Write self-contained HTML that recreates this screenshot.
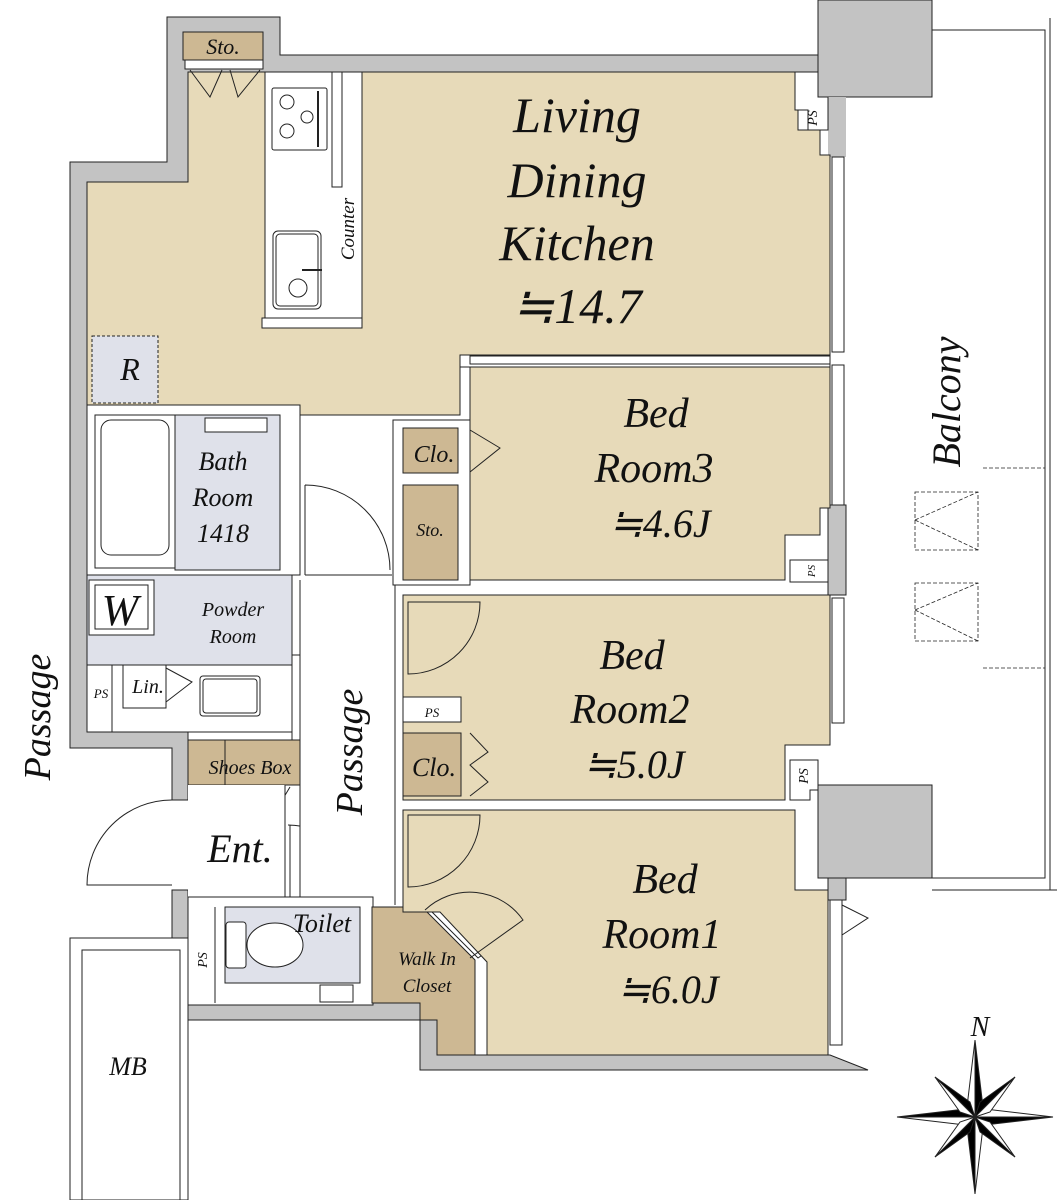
<!DOCTYPE html>
<html><head><meta charset="utf-8"><style>
html,body{margin:0;padding:0;background:#fff}
svg{display:block}
text{font-family:"Liberation Serif",serif;font-style:italic;fill:#111}
</style></head><body>
<svg width="1057" height="1200" viewBox="0 0 1057 1200" xmlns="http://www.w3.org/2000/svg">
<g stroke="#222" stroke-width="1">
<path d="M167,17 H280 V55 H818 V72 H188 V182 H87 V732 H188 V800 H172 V748 H70 V162 H167 Z" fill="#c3c3c3"/>
<path d="M172,890 H188 V1003 H437 V1055 H830 L868,1070 H420 V1020 H188 V1015 H172 Z" fill="#c3c3c3"/>
<rect x="818" y="0" width="114" height="97" fill="#c3c3c3"/>
<rect x="828" y="97" width="18" height="60" fill="#c3c3c3" stroke="none"/>
<rect x="828" y="505" width="18" height="90" fill="#c3c3c3"/>
<rect x="818" y="785" width="114" height="93" fill="#c3c3c3"/>
<rect x="828" y="878" width="18" height="22" fill="#c3c3c3"/>
<path d="M932,30 H1045 V878 H932" fill="none"/>
<line x1="1050" y1="18" x2="1050" y2="890"/>
<line x1="932" y1="890" x2="1057" y2="890"/>
<path d="M188,72 H818 V105 H798 V130 H820 V155 H830 V355 H460 V415 H300 V405 H87 V182 H188 Z" fill="#e7dab9"/>
<rect x="265" y="72" width="97" height="255" fill="#fff"/>
<rect x="262" y="318" width="100" height="10" fill="#fff"/>
<rect x="332" y="72" width="10" height="115" fill="#fff"/>
<rect x="272" y="88" width="55" height="62" fill="#fff" rx="2"/>
<circle cx="287" cy="102" r="7" fill="none"/><circle cx="287" cy="131" r="7" fill="none"/><circle cx="307" cy="117" r="6" fill="none"/>
<line x1="318" y1="91" x2="318" y2="147" stroke-width="2"/>
<rect x="273" y="231" width="48" height="78" rx="5" fill="#fff"/>
<rect x="276" y="234" width="42" height="72" rx="4" fill="none"/>
<circle cx="298" cy="288" r="9" fill="none"/>
<line x1="302" y1="270" x2="322" y2="270" stroke-width="2"/>
<rect x="183" y="32" width="80" height="28" fill="#cdb893"/>
<rect x="185" y="60" width="78" height="9" fill="#fff"/>
<path d="M190,70 L210,97 L222,70 M230,70 L238,97 L260,70" fill="none"/>
<path d="M795,72 H818 V97 H828 V130 H808 V110 H795 Z" fill="#fff"/>
<rect x="92" y="336" width="66" height="67" fill="#dfe1ea" stroke-dasharray="3,2"/>
<rect x="87" y="405" width="213" height="170" fill="#fff"/>
<rect x="95" y="415" width="80" height="153" fill="#fff"/>
<rect x="101" y="420" width="68" height="135" rx="10" fill="#fff"/>
<rect x="175" y="415" width="105" height="155" fill="#dfe1ea"/>
<rect x="205" y="418" width="62" height="14" fill="#fff"/>
<rect x="87" y="575" width="205" height="90" fill="#dfe1ea"/>
<rect x="89" y="580" width="65" height="55" fill="#fff"/>
<rect x="95" y="585" width="53" height="44" fill="#fff"/>
<rect x="87" y="665" width="210" height="67" fill="#fff"/>
<line x1="112" y1="665" x2="112" y2="732"/>
<rect x="123" y="665" width="43" height="43" fill="#fff"/>
<path d="M166,668 L192,682 L166,702" fill="none"/>
<rect x="200" y="676" width="60" height="40" rx="3" fill="#fff"/>
<rect x="203" y="679" width="54" height="34" rx="3" fill="none"/>
<rect x="292" y="655" width="8" height="85" fill="#fff"/>
<rect x="188" y="740" width="114" height="45" fill="#cdb893"/>
<line x1="225" y1="740" x2="225" y2="785"/>
<path d="M192,787 L212,812 L225,787 L245,812 L262,787 L275,812 L290,787" fill="none"/>
<rect x="188" y="785" width="97" height="112" fill="#fff" stroke="none"/>
<line x1="285" y1="785" x2="285" y2="897"/>
<path d="M172,800 A85,85 0 0 0 87,885 H172" fill="none"/>
<path d="M288,825 A72,72 0 0 1 360,897 M290,825 V897" fill="none"/>
<rect x="300" y="580" width="95" height="325" fill="#fff" stroke="none"/>
<line x1="395" y1="420" x2="395" y2="905"/>
<line x1="300" y1="580" x2="300" y2="900"/>
<path d="M305,485 A85,85 0 0 1 390,570 M305,485 V575 M305,575 H392" fill="none"/>
<rect x="188" y="897" width="185" height="108" fill="#fff"/>
<line x1="215" y1="907" x2="215" y2="1003"/>
<rect x="225" y="907" width="135" height="76" fill="#dfe1ea"/>
<rect x="226" y="922" width="20" height="46" rx="3" fill="#fff"/>
<ellipse cx="275" cy="945" rx="28" ry="22" fill="#fff"/>
<rect x="320" y="985" width="33" height="17" fill="#fff"/>
<path d="M372,907 H422 L475,960 V1055 H437 V1020 H420 V1003 H372 Z" fill="#cdb893"/>
<path d="M424,904 L478,958 L485,953 L430,898 Z" fill="#fff"/>
<rect x="460" y="355" width="370" height="12" fill="#fff"/>
<path d="M470,367 H830 V508 H820 V535 H785 V580 H470 Z" fill="#e7dab9"/>
<rect x="393" y="420" width="77" height="165" fill="#fff"/>
<rect x="403" y="428" width="55" height="45" fill="#cdb893"/>
<rect x="403" y="485" width="55" height="95" fill="#cdb893"/>
<path d="M470,430 L500,448 L470,472" fill="none"/>
<rect x="790" y="560" width="38" height="22" fill="#fff"/>
<path d="M403,595 H830 V745 H785 V800 H403 Z" fill="#e7dab9"/>
<rect x="403" y="697" width="58" height="25" fill="#fff"/>
<rect x="403" y="733" width="58" height="63" fill="#cdb893"/>
<path d="M470,733 L488,752 L470,765 L488,782 L470,796" fill="none"/>
<path d="M408,602 H480 A72,72 0 0 1 408,674 Z" fill="#e7dab9"/>
<path d="M790,760 H818 V790 H810 V800 H790 Z" fill="#fff"/>
<path d="M403,810 H795 V890 H828 V1055 H487 V962 L440,912 H403 Z" fill="#e7dab9"/>
<path d="M408,815 H480 A72,72 0 0 1 408,887 Z" fill="#e7dab9"/>
<path d="M470,958 L523,920 A65,65 0 0 0 425,910" fill="none"/>
<g fill="#fff">
<rect x="832" y="157" width="12" height="195"/><rect x="832" y="365" width="12" height="140"/>
<rect x="832" y="598" width="12" height="125"/><rect x="830" y="900" width="12" height="145"/>
<rect x="470" y="356" width="360" height="8"/>
</g>
<path d="M842,905 L868,918 L842,935" fill="none"/>
<g fill="none" stroke-dasharray="4,2" stroke-width="0.8">
<rect x="915" y="492" width="63" height="58"/><path d="M915,520 L978,492 M915,520 L978,550"/>
<rect x="915" y="583" width="63" height="58"/><path d="M915,610 L978,583 M915,610 L978,641"/>
<line x1="983" y1="468" x2="1045" y2="468"/><line x1="983" y1="668" x2="1045" y2="668"/>
</g>
<rect x="70" y="938" width="118" height="262" fill="#fff"/>
<rect x="82" y="950" width="98" height="250" fill="#fff"/>
<g transform="translate(975,1117)">
<path d="M0,-77 L8,-10 L0,0 Z M0,77 L-8,10 L0,0 Z M-78,0 L-10,-8 L0,0 Z M78,0 L10,8 L0,0 Z" fill="#000"/>
<path d="M0,-77 L-8,-10 L0,0 Z M0,77 L8,10 L0,0 Z M-78,0 L-10,8 L0,0 Z M78,0 L10,-8 L0,0 Z" fill="#fff"/>
<path d="M-40,-40 L-5,-15 L0,0 Z M40,40 L5,15 L0,0 Z M40,-40 L5,-15 L0,0 Z M-40,40 L-5,15 L0,0 Z" fill="#000"/>
<path d="M-40,-40 L-15,-5 L0,0 Z M40,40 L15,5 L0,0 Z M40,-40 L15,-5 L0,0 Z M-40,40 L-15,5 L0,0 Z" fill="#fff"/>
</g>
</g>
<text x="223" y="54" font-size="22" text-anchor="middle">Sto.</text>
<text x="577" y="132" font-size="50" text-anchor="middle">Living</text>
<text x="577" y="197" font-size="50" text-anchor="middle">Dining</text>
<text x="577" y="260" font-size="50" text-anchor="middle">Kitchen</text>
<text x="577" y="323" font-size="50" text-anchor="middle">≒14.7</text>
<text x="130" y="380" font-size="32" text-anchor="middle">R</text>
<text x="223" y="470" font-size="26" text-anchor="middle">Bath</text>
<text x="223" y="506" font-size="26" text-anchor="middle">Room</text>
<text x="223" y="542" font-size="26" text-anchor="middle">1418</text>
<text x="120" y="625" font-size="44" text-anchor="middle" font-style="normal">W</text>
<text x="233" y="616" font-size="20" text-anchor="middle">Powder</text>
<text x="233" y="643" font-size="20" text-anchor="middle">Room</text>
<text x="101" y="698" font-size="13" text-anchor="middle">PS</text>
<text x="148" y="693" font-size="20" text-anchor="middle">Lin.</text>
<text x="250" y="774" font-size="20" text-anchor="middle">Shoes Box</text>
<text x="240" y="862" font-size="40" text-anchor="middle">Ent.</text>
<text x="322" y="932" font-size="26" text-anchor="middle">Toilet</text>
<text x="427" y="965" font-size="19" text-anchor="middle">Walk In</text>
<text x="427" y="992" font-size="19" text-anchor="middle">Closet</text>
<text x="128" y="1075" font-size="26" text-anchor="middle">MB</text>
<text x="656" y="427" font-size="42" text-anchor="middle">Bed</text>
<text x="654" y="482" font-size="42" text-anchor="middle">Room3</text>
<text x="660" y="537" font-size="40" text-anchor="middle">≒4.6J</text>
<text x="434" y="462" font-size="24" text-anchor="middle">Clo.</text>
<text x="430" y="536" font-size="18" text-anchor="middle">Sto.</text>
<text x="632" y="669" font-size="42" text-anchor="middle">Bed</text>
<text x="630" y="723" font-size="42" text-anchor="middle">Room2</text>
<text x="634" y="778" font-size="40" text-anchor="middle">≒5.0J</text>
<text x="432" y="717" font-size="13" text-anchor="middle">PS</text>
<text x="434" y="776" font-size="26" text-anchor="middle">Clo.</text>
<text x="665" y="893" font-size="42" text-anchor="middle">Bed</text>
<text x="662" y="948" font-size="42" text-anchor="middle">Room1</text>
<text x="668" y="1003" font-size="40" text-anchor="middle">≒6.0J</text>
<text x="980" y="1036" font-size="28" text-anchor="middle">N</text>
<text transform="translate(817,118) rotate(-90)" font-size="14" text-anchor="middle">PS</text>
<text transform="translate(815,571) rotate(-90)" font-size="11" text-anchor="middle">PS</text>
<text transform="translate(808,776) rotate(-90)" font-size="14" text-anchor="middle">PS</text>
<text transform="translate(207,960) rotate(-90)" font-size="14" text-anchor="middle">PS</text>
<text transform="translate(354,229) rotate(-90)" font-size="19" text-anchor="middle">Counter</text>
<text transform="translate(960,402) rotate(-90)" font-size="40" text-anchor="middle">Balcony</text>
<text transform="translate(50,717) rotate(-90)" font-size="38" text-anchor="middle">Passage</text>
<text transform="translate(362,752) rotate(-90)" font-size="38" text-anchor="middle">Passage</text>
</svg>
</body></html>
